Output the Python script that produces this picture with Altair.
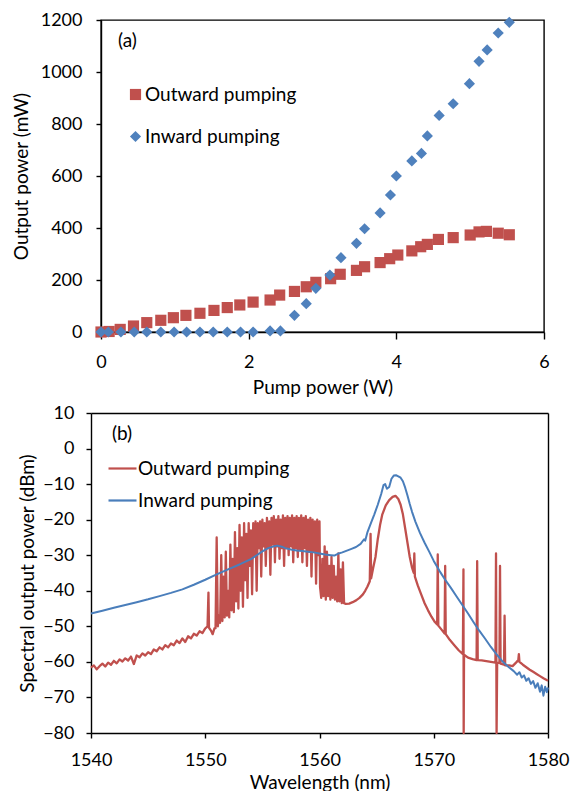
import altair as alt
import pandas as pd

FONT = "Lato"
RED = "#C0504D"
BLUE = "#4F81BD"
LBLUE = "#4A7EBB"

# ---------------- Panel (a): output power vs pump power ----------------
out_pump = [0.0, 0.11, 0.26, 0.44, 0.62, 0.81, 0.98, 1.15, 1.34, 1.53, 1.71, 1.88,
            2.06, 2.29, 2.42, 2.62, 2.78, 2.91, 3.11, 3.24, 3.46, 3.57, 3.78, 3.91,
            4.02, 4.21, 4.33, 4.42, 4.57, 4.77, 5.0, 5.12, 5.22, 5.38, 5.53]
out_power = [0, 2, 10, 23, 36, 45, 55, 64, 72, 83, 94, 104,
             115, 123, 142, 156, 174, 191, 205, 222, 237, 251, 267, 282,
             296, 312, 328, 337, 356, 363, 373, 385, 387, 380, 374]
in_pump = [0.0, 0.1, 0.27, 0.45, 0.62, 0.81, 0.99, 1.16, 1.34, 1.52, 1.71, 1.89,
           2.06, 2.29, 2.43, 2.62, 2.78, 2.91, 3.10, 3.25, 3.46, 3.57, 3.78, 3.92,
           4.00, 4.21, 4.34, 4.42, 4.58, 4.77, 4.99, 5.12, 5.23, 5.38, 5.53]
in_power = [0, 0, 0, 0, 0, 0, 0, 0, 0, 0, 0, 0,
            0, 4, 4, 64, 109, 168, 219, 286, 341, 397, 458, 527,
            600, 658, 687, 754, 833, 878, 955, 1041, 1085, 1150, 1191]

# ---------------- Panel (b): spectra ----------------
out_wl_1 = [1540.0, 1540.25, 1540.5, 1540.75, 1541.0, 1541.25, 1541.5, 1541.75, 1542.0, 1542.25,
            1542.5, 1542.75, 1543.0, 1543.25, 1543.5, 1543.75, 1544.0, 1544.25, 1544.5, 1544.75,
            1545.0, 1545.25, 1545.5, 1545.75, 1546.0, 1546.25, 1546.5, 1546.75, 1547.0, 1547.25,
            1547.5, 1547.75, 1548.0, 1548.25, 1548.5, 1548.75, 1549.0, 1549.25, 1549.5, 1549.75,
            1550.0, 1550.2, 1550.28, 1550.33, 1550.5, 1550.65, 1550.8]
out_db_1 = [-61.6, -61.0, -62.1, -61.2, -60.5, -61.3, -60.2, -60.8, -59.7, -60.4,
            -59.3, -59.9, -59.0, -59.6, -58.5, -60.6, -58.2, -58.7, -57.6, -58.2,
            -57.3, -57.8, -56.5, -57.0, -55.9, -56.5, -55.3, -55.9, -54.8, -55.3,
            -54.0, -54.7, -53.4, -54.4, -52.8, -53.4, -52.1, -52.6, -51.4, -51.9,
            -50.6, -50.0, -40.5, -50.4, -51.2, -52.2, -50.6]
out_wl_2 = [1550.9, 1551.0, 1551.1, 1551.2, 1551.3, 1551.4, 1551.5, 1551.6, 1551.7, 1551.8,
            1551.9, 1552.0, 1552.1, 1552.2, 1552.3, 1552.4, 1552.5, 1552.6, 1552.7, 1552.8,
            1552.9, 1553.0, 1553.1, 1553.2, 1553.3, 1553.4, 1553.5, 1553.6, 1553.7, 1553.8,
            1553.9, 1554.0, 1554.1, 1554.2, 1554.3, 1554.4, 1554.5, 1554.6, 1554.7, 1554.8,
            1554.9, 1555.0, 1555.1, 1555.2, 1555.3, 1555.4, 1555.5, 1555.6, 1555.7, 1555.8,
            1555.9, 1556.0, 1556.1, 1556.2, 1556.3, 1556.4, 1556.5, 1556.6, 1556.7, 1556.8,
            1556.9, 1557.0, 1557.1, 1557.2, 1557.3, 1557.4, 1557.5, 1557.6, 1557.7, 1557.8,
            1557.9, 1558.0, 1558.1, 1558.2, 1558.3, 1558.4, 1558.5, 1558.6, 1558.7, 1558.8,
            1558.9, 1559.0, 1559.1, 1559.2, 1559.3, 1559.4, 1559.5, 1559.6, 1559.7, 1559.8,
            1559.9, 1560.0]
out_db_2 = [-50.5, -25.0, -50.0, -47.0, -49.0, -30.0, -48.5, -36.0, -47.5, -29.0,
            -47.0, -40.0, -47.5, -27.0, -45.5, -31.0, -46.0, -23.5, -43.0, -28.0,
            -45.0, -21.5, -40.0, -25.0, -44.5, -21.0, -37.0, -24.0, -42.0, -21.0,
            -33.0, -23.0, -41.0, -21.0, -30.0, -20.5, -40.0, -21.0, -28.0, -20.5,
            -36.0, -20.0, -27.5, -21.0, -33.0, -19.5, -28.0, -20.5, -35.5, -19.5,
            -27.0, -19.0, -32.0, -20.0, -27.5, -19.0, -31.0, -20.0, -28.0, -18.8,
            -33.0, -19.5, -28.0, -19.0, -30.0, -19.5, -27.5, -18.8, -32.0, -19.5,
            -28.0, -19.0, -30.5, -19.5, -28.5, -18.8, -32.0, -19.5, -28.0, -19.0,
            -33.0, -20.0, -29.0, -19.5, -36.0, -20.0, -29.0, -20.5, -38.0, -20.0,
            -30.0, -20.5]
out_wl_3 = [1560.05, 1560.15, 1560.25, 1560.35, 1560.45, 1560.55, 1560.65, 1560.75, 1560.85, 1560.95,
            1561.05, 1561.15, 1561.25, 1561.35, 1561.45, 1561.55, 1561.65, 1561.75, 1561.85, 1561.95,
            1562.05, 1562.15, 1562.3, 1562.6, 1562.9, 1563.2, 1563.5, 1563.8, 1564.0, 1564.2,
            1564.4, 1564.47, 1564.52, 1564.7, 1564.9, 1565.1, 1565.3, 1565.5, 1565.8, 1566.1,
            1566.4, 1566.65, 1566.9, 1567.1, 1567.3, 1567.5, 1567.7, 1567.9, 1568.1, 1568.25,
            1568.3, 1568.35, 1568.6, 1568.9, 1569.2, 1569.5, 1569.8, 1570.1, 1570.3, 1570.35,
            1570.4, 1570.7, 1570.95, 1571.0, 1571.05, 1571.4, 1571.8, 1572.2, 1572.55, 1572.6,
            1572.62, 1572.65, 1573.0, 1573.4, 1573.75, 1573.8, 1573.85, 1574.2, 1574.6, 1575.0,
            1575.4, 1575.45, 1575.5, 1575.55, 1575.75, 1575.8, 1575.85, 1576.15, 1576.2, 1576.25,
            1576.6, 1576.9, 1577.2, 1577.4, 1577.45, 1577.5, 1577.8, 1578.1, 1578.4, 1578.7,
            1579.0, 1579.3, 1579.6, 1580.0]
out_db_3 = [-39.0, -42.0, -31.0, -41.5, -27.5, -42.5, -29.0, -41.5, -33.0, -42.5,
            -30.5, -42.0, -33.0, -42.5, -36.0, -43.0, -29.5, -43.0, -34.0, -43.5,
            -32.0, -43.5, -43.7, -43.6, -43.2, -42.7, -42.0, -41.0, -40.0, -38.8,
            -37.3, -24.0, -36.5, -33.5, -30.5, -25.5, -21.5, -18.5, -16.0, -14.5,
            -13.6, -13.3, -14.2, -15.8, -18.5, -22.5, -26.5, -30.5, -33.5, -35.0,
            -29.5, -36.0, -38.5, -41.0, -43.5, -45.5, -47.3, -48.8, -49.5, -29.8,
            -49.8, -51.0, -52.0, -33.0, -52.2, -53.8, -55.3, -56.8, -57.8, -34.0,
            -80.0, -58.0, -58.8, -59.2, -59.5, -31.7, -59.5, -59.6, -59.8, -60.0,
            -60.2, -29.5, -80.0, -60.3, -60.3, -33.0, -60.5, -60.8, -47.0, -61.0,
            -61.0, -61.2, -60.2, -59.5, -57.8, -60.0, -60.8, -61.5, -62.2, -62.8,
            -63.4, -64.0, -64.6, -65.3]
in_wl = [1540.0, 1541.0, 1542.0, 1543.0, 1544.0, 1545.0, 1546.0, 1547.0, 1548.0, 1549.0,
         1550.0, 1551.0, 1552.0, 1553.0, 1554.0, 1554.5, 1555.0, 1555.5, 1556.0, 1556.3,
         1556.7, 1557.0, 1557.5, 1558.0, 1558.5, 1559.0, 1559.5, 1560.0, 1560.5, 1561.0,
         1561.3, 1561.6, 1562.0, 1562.4, 1562.8, 1563.2, 1563.6, 1563.9, 1564.0, 1564.2,
         1564.5, 1564.8, 1565.1, 1565.4, 1565.6, 1565.75, 1565.9, 1566.1, 1566.3, 1566.5,
         1566.7, 1566.9, 1567.1, 1567.3, 1567.5, 1567.7, 1567.9, 1568.1, 1568.4, 1568.8,
         1569.2, 1569.6, 1570.0, 1570.5, 1571.0, 1571.5, 1572.0, 1572.5, 1573.0, 1573.5,
         1574.0, 1574.5, 1575.0, 1575.5, 1576.0, 1576.5, 1577.0, 1577.3, 1577.5, 1577.7,
         1577.9, 1578.1, 1578.3, 1578.5, 1578.7, 1578.9, 1579.1, 1579.3, 1579.45, 1579.6,
         1579.75, 1579.9, 1580.0]
in_db = [-46.4, -45.6, -44.8, -44.0, -43.2, -42.4, -41.5, -40.6, -39.6, -38.3,
         -36.9, -35.4, -34.0, -32.6, -31.1, -30.0, -28.9, -28.0, -27.5, -27.3,
         -27.6, -28.0, -28.4, -28.7, -28.8, -29.0, -29.2, -29.5, -29.8, -30.0,
         -30.1, -29.6, -29.2, -28.7, -28.2, -27.7, -26.8, -25.5, -25.9, -23.5,
         -21.0, -18.5, -15.8, -12.8, -10.3, -10.0, -11.3, -10.8, -8.5, -7.6,
         -7.5, -7.8, -8.2, -9.2, -11.0, -13.2, -15.6, -17.8, -20.6, -23.8,
         -26.5, -29.0, -31.6, -34.4, -36.9, -39.2, -41.6, -44.0, -46.4, -48.9,
         -51.3, -53.5, -55.8, -57.9, -59.8, -61.3, -62.6, -63.6, -62.9, -64.4,
         -63.8, -65.3, -64.6, -66.2, -65.4, -67.3, -66.0, -68.4, -66.6, -69.5,
         -67.0, -68.5, -67.2]

SERIES = ["Outward pumping", "Inward pumping"]

df_a = pd.DataFrame({
    "pump": out_pump + in_pump,
    "power": out_power + in_power,
    "series": [SERIES[0]] * len(out_pump) + [SERIES[1]] * len(in_pump),
})
out_wl = out_wl_1 + out_wl_2 + out_wl_3
out_db = out_db_1 + out_db_2 + out_db_3
df_out = pd.DataFrame({"wl": out_wl, "db": out_db, "series": SERIES[0], "i": range(len(out_wl))})
df_in = pd.DataFrame({"wl": in_wl, "db": in_db, "series": SERIES[1], "i": range(len(in_wl))})

axis_common = dict(labelFont=FONT, titleFont=FONT, labelColor="black", titleColor="black",
                   labelFontSize=18, titleFontSize=19, titleFontWeight="normal",
                   domainColor="black", domainWidth=1.4, tickColor="black", tickWidth=1.4,
                   grid=False, labelFlush=False, labelOverlap=False)
frame_axis = dict(labels=False, ticks=False, title=None, grid=False,
                  domainColor="black", domainWidth=1.4)

# ---------------- panel (a) ----------------
leg_a = alt.Legend(title=None, orient="none", legendX=25, legendY=65, padding=0,
                   labelFont=FONT, labelFontSize=19, labelColor="black", labelOffset=0,
                   rowPadding=22, symbolSize=125, symbolStrokeWidth=0, symbolOpacity=1)
xa = alt.X("pump:Q", scale=alt.Scale(domain=[0, 6], nice=False),
           axis=alt.Axis(values=[0, 2, 4, 6], title="Pump power (W)", tickSize=7,
                         labelPadding=14, titlePadding=7, **axis_common))
ya = alt.Y("power:Q", scale=alt.Scale(domain=[0, 1200], nice=False),
           axis=alt.Axis(values=[0, 200, 400, 600, 800, 1000, 1200], title="Output power (mW)",
                         format="d", tickSize=5, labelPadding=14, titlePadding=9, **axis_common))
pts = alt.Chart(df_a).mark_point(filled=True, opacity=1, size=125).encode(
    x=xa, y=ya,
    color=alt.Color("series:N", scale=alt.Scale(domain=SERIES, range=[RED, BLUE]), legend=leg_a),
    shape=alt.Shape("series:N", scale=alt.Scale(domain=SERIES, range=["square", "diamond"]), legend=leg_a),
)
lab_a = alt.Chart(pd.DataFrame({"t": ["(a)"]})).mark_text(
    font=FONT, fontSize=19, color="black", align="center", baseline="middle"
).encode(x=alt.value(26.5), y=alt.value(21), text="t:N")
panel_a = alt.layer(pts, lab_a).properties(width=443, height=312)

# ---------------- panel (b) ----------------
leg_b = alt.Legend(title=None, orient="none", legendX=6, legendY=40, padding=0,
                   labelFont=FONT, labelFontSize=19, labelColor="black", labelOffset=0,
                   rowPadding=6, symbolType="stroke", symbolSize=784, symbolStrokeWidth=2.2)
sx = alt.Scale(domain=[1540, 1580], range=[-10, 447], nice=False)
sy = alt.Scale(domain=[-80, 10], nice=False)
xb = alt.X("wl:Q", scale=sx,
           axis=alt.Axis(values=[1540, 1550, 1560, 1570, 1580], title="Wavelength (nm)", format="d",
                         tickSize=5, labelPadding=13, titlePadding=4, **axis_common))
yb = alt.Y("db:Q", scale=sy,
           axis=alt.Axis(values=list(range(-80, 11, 10)), title="Spectral output power (dBm)",
                         offset=10, tickSize=5, labelPadding=12, titlePadding=5, **axis_common))
cb = alt.Color("series:N", scale=alt.Scale(domain=SERIES, range=[RED, LBLUE]), legend=leg_b)
line_out = alt.Chart(df_out).mark_line(strokeWidth=2.3, strokeJoin="round").encode(
    x=xb, y=yb, color=cb, order="i:Q")
line_in = alt.Chart(df_in).mark_line(strokeWidth=2, strokeJoin="round").encode(
    x=alt.X("wl:Q", axis=None), y=alt.Y("db:Q", axis=None), color=cb, order="i:Q")
frame_b = alt.Chart(df_in).mark_point(opacity=0).encode(
    x=alt.X("wl:Q", axis=alt.Axis(orient="top", **frame_axis)),
    y=alt.Y("db:Q", axis=alt.Axis(orient="right", **frame_axis)))
lab_b = alt.Chart(pd.DataFrame({"t": ["(b)"]})).mark_text(
    font=FONT, fontSize=19, color="black", align="center", baseline="middle"
).encode(x=alt.value(21), y=alt.value(21), text="t:N")
panel_b = alt.layer(line_out, line_in, frame_b, lab_b).resolve_axis(
    x="independent", y="independent"
).properties(width=447, height=320, view=alt.ViewBackground(stroke=None))

chart = alt.vconcat(panel_a, panel_b, spacing=6).resolve_scale(
    color="independent", shape="independent"
).properties(
    padding={"left": 11, "top": 10, "right": 3, "bottom": 0},
    background="white",
).configure_view(stroke="black", strokeWidth=1.4)

chart.save("out.html", embed_options={"renderer": "svg", "actions": False})
